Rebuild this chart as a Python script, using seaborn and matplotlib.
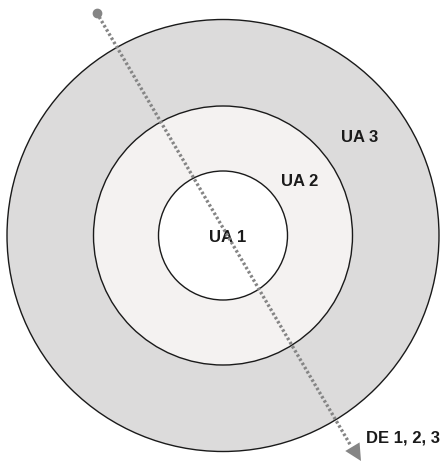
import matplotlib
matplotlib.use("Agg")
import matplotlib.pyplot as plt
from matplotlib.patches import Circle
import seaborn as sns

# concentric zones (pixel units, image coords)
zone_names = ["UA 3", "UA 2", "UA 1"]
zone_radii = [216, 129.5, 64.5]
zone_colors = ["#dcdbdb", "#f4f2f1", "#ffffff"]
label_x = [360, 300, 228]
label_y = [138, 181, 238]
center = (223, 235.5)

# transect line
line_x = [96.7, 359]
line_y = [12.7, 460]
line_label = "DE 1, 2, 3"

sns.set_theme(style="white")
plt.rcParams['font.family'] = ['Liberation Sans', 'DejaVu Sans']

fig = plt.figure(figsize=(4.43, 4.62), dpi=100)
ax = fig.add_axes([0, 0, 1, 1])
ax.set_xlim(0, 443)
ax.set_ylim(462, 0)
ax.set_aspect('equal')
ax.axis('off')

for r, c in zip(zone_radii, zone_colors):
    ax.add_patch(Circle(center, r, facecolor=c, edgecolor="#1a1a1a", lw=1.0, zorder=1))

gray = "#858585"
ax.plot(line_x[:1], line_y[:1], marker='o', ms=6, color=gray, zorder=3)
ax.plot([line_x[0], line_x[1] - 8], [line_y[0], line_y[1] - 14], color=gray, lw=2.4,
        linestyle=(0, (0.75, 0.7)), zorder=3)
ax.annotate('', xy=(line_x[1] + 2, line_y[1] + 1), xytext=(line_x[1] - 10, line_y[1] - 19),
            arrowprops=dict(arrowstyle='-|>', color=gray, mutation_scale=30, lw=0,
                            shrinkA=0, shrinkB=0), zorder=4, annotation_clip=False)

for name, x, y in zip(zone_names, label_x, label_y):
    ax.text(x, y, name, ha='center', va='center', fontsize=12, fontweight='bold',
            color="#1a1a1a", zorder=2)
ax.text(366, 438, line_label, ha='left', va='center', fontsize=12, fontweight='bold',
        color="#1a1a1a", zorder=2)

fig.savefig("out.png", dpi=100)
